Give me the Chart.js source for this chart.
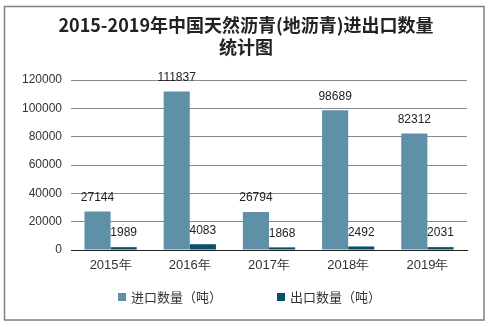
<!DOCTYPE html>
<html>
<head>
<meta charset="utf-8">
<script src="https://cdn.jsdelivr.net/npm/chart.js@4/dist/chart.umd.min.js"></script>
<style>
html,body{margin:0;padding:0;background:#fff;}
#wrap{width:494px;height:327px;position:relative;}
</style>
</head>
<body>
<div id="wrap"><canvas id="c" width="494" height="327"></canvas></div>
<script>
const titleLines = ['2015-2019年中国天然沥青(地沥青)进出口数量', '统计图'];
const categories = ['2015年', '2016年', '2017年', '2018年', '2019年'];
const importName = '进口数量（吨）';
const exportName = '出口数量（吨）';
const importValues = [27144, 111837, 26794, 98689, 82312];
const exportValues = [1989, 4083, 1868, 2492, 2031];
const yTicks = [0, 20000, 40000, 60000, 80000, 100000, 120000];

const importColor = '#5e91a8';
const exportColor = '#0b4f68';
const labelFont = '12px "Liberation Sans", Arial, sans-serif';

const decor = {
  id: 'decor',
  beforeDraw(chart) {
    const ctx = chart.ctx;
    ctx.save();
    ctx.fillStyle = '#fff';
    ctx.fillRect(0, 0, chart.width, chart.height);
    ctx.strokeStyle = '#808080';
    ctx.lineWidth = 1.5;
    ctx.strokeRect(4.5, 6.5, 479.5, 313.5);
    ctx.fillStyle = '#222';
    ctx.font = 'bold 18px "Noto Sans CJK SC", sans-serif';
    ctx.textAlign = 'center';
    ctx.textBaseline = 'middle';
    ctx.fillText(titleLines[0], 246, 25);
    ctx.fillText(titleLines[1], 246, 47);
    // legend
    const items = chart.data.datasets.map(ds => ({ text: ds.label, color: ds.backgroundColor }));
    const xs = [118, 277];
    ctx.font = '13px "Noto Sans CJK SC", sans-serif';
    ctx.textAlign = 'left';
    items.forEach((it, i) => {
      ctx.fillStyle = it.color;
      ctx.fillRect(xs[i], 293, 8, 8);
      ctx.fillStyle = '#333';
      ctx.fillText(it.text, xs[i] + 13, 297);
    });
    ctx.restore();
  },
  afterDatasetsDraw(chart) {
    const ctx = chart.ctx;
    ctx.save();
    ctx.font = labelFont;
    ctx.fillStyle = '#222';
    ctx.textAlign = 'center';
    ctx.textBaseline = 'bottom';
    chart.data.datasets.forEach((ds, di) => {
      const meta = chart.getDatasetMeta(di);
      meta.data.forEach((bar, i) => {
        ctx.fillText(String(ds.data[i]), bar.x, bar.y - 8);
      });
    });
    ctx.restore();
  }
};

new Chart(document.getElementById('c'), {
  type: 'bar',
  data: {
    labels: categories,
    datasets: [
      { label: importName, data: importValues, backgroundColor: importColor, categoryPercentage: 0.66, barPercentage: 1.0 },
      { label: exportName, data: exportValues, backgroundColor: exportColor, categoryPercentage: 0.66, barPercentage: 1.0 }
    ]
  },
  options: {
    responsive: false,
    animation: false,
    devicePixelRatio: 1,
    layout: { padding: { top: 80, right: 27, bottom: 46, left: 0 } },
    plugins: {
      title: { display: false },
      tooltip: { enabled: false },
      legend: { display: false }
    },
    scales: {
      x: {
        grid: { display: false, drawTicks: false },
        border: { display: true, color: '#222', width: 1 },
        ticks: { color: '#333', font: { size: 13, family: '"Liberation Sans", Arial, sans-serif' }, padding: 8 },
        afterFit(s) { s.height = 31; }
      },
      y: {
        min: 0, max: 120000,
        afterBuildTicks(s) { s.ticks = yTicks.map(v => ({ value: v })); },
        grid: { color: '#8a8a8a', drawTicks: false, lineWidth: 1 },
        border: { display: false },
        ticks: { color: '#333', font: { size: 12, family: '"Liberation Sans", Arial, sans-serif' }, padding: 9, callback: v => String(v) },
        afterFit(s) { s.width = 71; }
      }
    }
  },
  plugins: [decor]
});
</script>
</body>
</html>
